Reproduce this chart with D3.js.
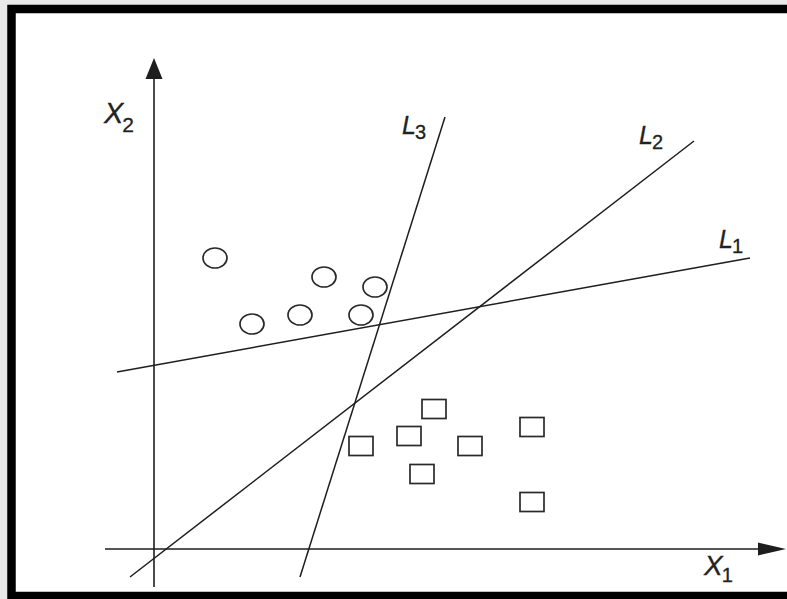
<!DOCTYPE html>
<html>
<head>
<meta charset="utf-8">
<script src="https://cdn.jsdelivr.net/npm/d3@7"></script>
<style>
  html, body { margin: 0; padding: 0; background: #fff; }
  svg { display: block; }
  text { font-family: "Liberation Sans", Arial, Helvetica, sans-serif; fill: #222; stroke: #222; stroke-width: 0.3; }
</style>
</head>
<body>
<div id="chart"></div>
<script>
// class A (circles) and class B (squares), in feature units
const circlesX1 = [6.1, 17.0, 22.1, 9.8, 14.6, 20.7];
const circlesX2 = [29.1, 27.2, 26.2, 22.5, 23.4, 23.4];
const squaresX1 = [20.7, 28.0, 25.5, 31.6, 26.8, 37.8, 37.8];
const squaresX2 = [10.3, 14.0, 11.3, 10.3, 7.5, 12.2, 4.7];

// separating lines: [x1 start, x2 start, x1 end, x2 end]
const lineNames = ["L1", "L2", "L3"];
const lineEnds = [
  [-3.7, 17.7, 59.6, 29.1],
  [-2.4, -2.8, 54.0, 40.8],
  [14.6, -2.8, 29.1, 43.2]
];

// axis extents
const x1Extent = [-4.9, 63.2];
const x2Extent = [-3.8, 49.1];

const W = 787, H = 599;

const svg = d3.select("#chart").append("svg")
  .attr("width", W)
  .attr("height", H);

// scanned page look: light grey margin + thick black frame
svg.append("rect").attr("width", W).attr("height", H).attr("fill", "#e9e9e9");
svg.append("rect")
  .attr("x", 11.5).attr("y", 9)
  .attr("width", 800).attr("height", 587)
  .attr("fill", "#fff")
  .attr("stroke", "#000")
  .attr("stroke-width", 8.5);

const x = d3.scaleLinear().domain([0, 60]).range([154, 754]);
const y = d3.scaleLinear().domain([0, 48]).range([549, 69]);

const ink = "#1e1e1e";

// axes
svg.append("line")
  .attr("x1", x(x1Extent[0])).attr("y1", y(0))
  .attr("x2", x(x1Extent[1]) - 20).attr("y2", y(0))
  .attr("stroke", ink).attr("stroke-width", 1.6);
svg.append("line")
  .attr("x1", x(0)).attr("y1", y(x2Extent[0]))
  .attr("x2", x(0)).attr("y2", y(x2Extent[1]) + 15)
  .attr("stroke", ink).attr("stroke-width", 1.6);

// arrow heads
const tx = x(x1Extent[1]), ty = y(0);
svg.append("path")
  .attr("d", `M${tx},${ty} L${tx - 28},${ty - 6.5} L${tx - 28},${ty + 6.5} Z`)
  .attr("fill", ink);
const ux = x(0), uy = y(x2Extent[1]);
svg.append("path")
  .attr("d", `M${ux},${uy} L${ux - 8.5},${uy + 21} L${ux + 8.5},${uy + 21} Z`)
  .attr("fill", ink);

// separating lines
svg.selectAll("line.sep")
  .data(lineEnds)
  .enter()
  .append("line")
  .attr("class", "sep")
  .attr("x1", d => x(d[0])).attr("y1", d => y(d[1]))
  .attr("x2", d => x(d[2])).attr("y2", d => y(d[3]))
  .attr("stroke", ink)
  .attr("stroke-width", 1.5);

// circles
svg.selectAll("ellipse.a")
  .data(d3.zip(circlesX1, circlesX2))
  .enter()
  .append("ellipse")
  .attr("class", "a")
  .attr("cx", d => x(d[0])).attr("cy", d => y(d[1]))
  .attr("rx", 12).attr("ry", 10)
  .attr("fill", "none")
  .attr("stroke", "#2a2a2a")
  .attr("stroke-width", 1.7);

// squares
svg.selectAll("rect.b")
  .data(d3.zip(squaresX1, squaresX2))
  .enter()
  .append("rect")
  .attr("class", "b")
  .attr("x", d => x(d[0]) - 12).attr("y", d => y(d[1]) - 9.5)
  .attr("width", 24).attr("height", 19)
  .attr("fill", "none")
  .attr("stroke", "#2a2a2a")
  .attr("stroke-width", 1.7);

// labels: italic letter with upright subscript
function label(px, py, main, sub, size, subSize, subDy) {
  const t = svg.append("text").attr("x", px).attr("y", py);
  t.append("tspan").style("font-style", "italic").style("font-size", size + "px").text(main);
  t.append("tspan").attr("dy", subDy).attr("dx", -1).style("font-size", subSize + "px").text(sub);
}

label(104, 123, "X", "2", 29, 21, 9);
label(704, 575, "X", "1", 28, 20, 7);

// line labels placed next to the upper ends
const labelOffsets = [[-31, -10], [-55, 3], [-43, 17]];
lineEnds.forEach((d, i) => {
  const name = lineNames[i];
  label(x(d[2]) + labelOffsets[i][0], y(d[3]) + labelOffsets[i][1],
    name[0], name.slice(1), 25, 20, 5);
});
</script>
</body>
</html>
